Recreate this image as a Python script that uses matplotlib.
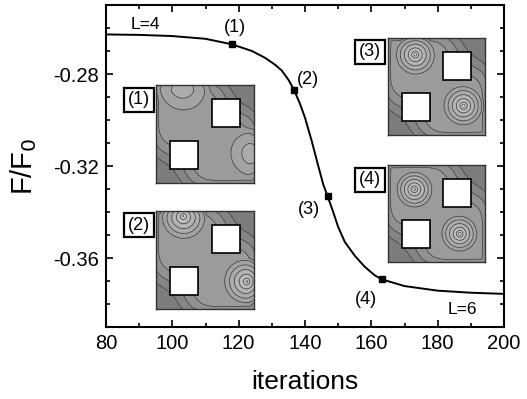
import numpy as np
import matplotlib
matplotlib.use("Agg")
import matplotlib.pyplot as plt
from matplotlib.patches import Rectangle
from matplotlib.ticker import MultipleLocator

plt.rcParams['font.family'] = ['Liberation Sans', 'DejaVu Sans']

# free energy vs iterations
iters = [80, 90, 100, 110, 118, 124, 128, 131, 133, 135, 136.7, 138.5, 140,
         142, 144, 145.5, 146.8, 148.5, 150, 152, 155, 158, 161, 163.2, 170,
         180, 190, 200]
free_energy = [-0.2628, -0.2630, -0.2635, -0.2647, -0.2671, -0.2700, -0.2730,
               -0.2760, -0.2785, -0.2825, -0.2869, -0.2930, -0.2990, -0.3090,
               -0.3200, -0.3280, -0.3331, -0.3400, -0.3465, -0.3530, -0.3590,
               -0.3638, -0.3675, -0.3693, -0.3722, -0.3742, -0.3751, -0.3756]

marker_iters = [118, 136.7, 146.8, 163.2]
marker_vals = [-0.2671, -0.2869, -0.3331, -0.3693]
marker_labels = ['(1)', '(2)', '(3)', '(4)']
label_pos = [(119, -0.2598), (141, -0.2825), (141.3, -0.3390), (158.5, -0.3779)]

# holes in every inset (x0, y0 from top, size) in panel units
holes = [(0.57, 0.14, 0.29), (0.14, 0.57, 0.29)]

# vortex centres (x, y from top), amplitude, radius for each snapshot
vortices = {
    '(1)': [(0.27, -0.02, 0.55, 0.30), (1.02, 0.70, 0.55, 0.28)],
    '(2)': [(0.28, 0.05, 1.0, 0.24), (0.93, 0.72, 1.0, 0.24)],
    '(3)': [(0.28, 0.17, 1.0, 0.21), (0.78, 0.70, 1.0, 0.21)],
    '(4)': [(0.27, 0.25, 1.0, 0.19), (0.74, 0.71, 1.0, 0.19)],
}

# inset placement in figure pixels: panel (left, top, size), label box centre
inset_px = {
    '(1)': ((156, 85, 98), (139, 100)),
    '(2)': ((156, 211, 98), (139, 225)),
    '(3)': ((388, 38, 97), (370, 52)),
    '(4)': ((388, 165, 97), (370, 180)),
}

W, H = 527, 399
fig = plt.figure(figsize=(W / 100, H / 100), dpi=100)
ax = fig.add_axes([106 / W, 1 - 327 / H, 398 / W, 322 / H])

ax.plot(iters, free_energy, color='black', lw=1.4)
ax.plot(marker_iters, marker_vals, 's', color='black', ms=4.5, ls='none')
for (x, y), lab in zip(label_pos, marker_labels):
    ax.text(x, y, lab, fontsize=13, ha='center', va='center')
ax.text(92, -0.2584, 'L=4', fontsize=12.5, ha='center', va='center')
ax.text(187.3, -0.3826, 'L=6', fontsize=12.5, ha='center', va='center')

ax.set_xlim(80, 200)
ax.set_ylim(-0.39, -0.25)
ax.xaxis.set_major_locator(MultipleLocator(20))
ax.xaxis.set_minor_locator(MultipleLocator(10))
ax.yaxis.set_minor_locator(MultipleLocator(0.01))
ax.set_yticks([-0.36, -0.32, -0.28])
ax.set_yticklabels(['-0.36', '-0.32', '-0.28'])
ax.tick_params(which='both', direction='in', top=True, right=True, width=1.2)
ax.tick_params(which='major', length=5, labelsize=14.5, pad=5)
ax.tick_params(which='minor', length=3)
for s in ax.spines.values():
    s.set_linewidth(1.5)
ax.set_xlabel('iterations', fontsize=19, labelpad=12)
ax.set_ylabel('F/F$_0$', fontsize=21, labelpad=10)

# inset vortex density maps
levels = [-2, -0.32, -0.16, -0.05, 0.08, 0.28, 0.48, 0.68, 0.85, 0.95, 2]
band_colors = ['#7c7c7c', '#858585', '#919191', '#9b9b9b', '#a3a3a3',
               '#ababab', '#b3b3b3', '#bcbcbc', '#c8c8c8', '#f0f0f0']
g = np.linspace(0, 1, 220)
X, Y = np.meshgrid(g, g)
for name, ((px, py, size), (bx, by)) in inset_px.items():
    iax = fig.add_axes([px / W, 1 - (py + size) / H, size / W, size / H])
    field = 0.06 * np.exp(-((X - 0.5) ** 2 + (Y - 0.5) ** 2) / (2 * 0.3 ** 2))
    for vx, vy, amp, rad in vortices[name]:
        field += amp * np.clip(1 - np.hypot(X - vx, Y - vy) / rad, 0, None)
    field -= 0.6 * np.exp(-((X - 1.0) ** 2 + Y ** 2) / (2 * 0.2 ** 2))
    field -= 0.6 * np.exp(-(X ** 2 + (Y - 1.0) ** 2) / (2 * 0.2 ** 2))
    edge = np.minimum(np.minimum(X, 1 - X), np.minimum(Y, 1 - Y))
    field -= 0.1 * np.exp(-edge / 0.05)
    iax.contourf(X, Y, field, levels=levels, colors=band_colors)
    iax.contour(X, Y, field, levels=levels[1:-1], colors='#404040',
                linewidths=0.55, linestyles='solid')
    for hx, hy, hs in holes:
        iax.add_patch(Rectangle((hx, hy), hs, hs, facecolor='white',
                                edgecolor='black', lw=1.2, zorder=5))
    iax.set_xlim(0, 1)
    iax.set_ylim(1, 0)
    iax.set_xticks([])
    iax.set_yticks([])
    for s in iax.spines.values():
        s.set_linewidth(1.0)
        s.set_color('#333333')
    fig.text(bx / W, 1 - by / H, name, fontsize=13, ha='center', va='center',
             bbox=dict(boxstyle='square,pad=0.2', fc='white', ec='black', lw=1.6))

fig.savefig('out.png', dpi=100)
